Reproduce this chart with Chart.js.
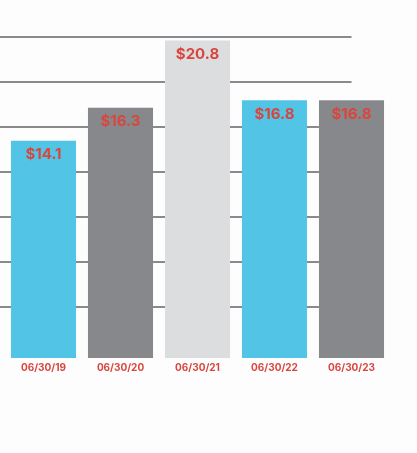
<!DOCTYPE html>
<html lang="en">
<head>
    <meta charset="UTF-8">
    <title>Bar chart</title>
    <script src="https://cdn.jsdelivr.net/npm/chart.js"></script>
    <style>
        html, body { margin: 0; padding: 0; background: #fdfdfd; }
        #wrap { width: 417px; height: 453px; }
    </style>
</head>
<body>
    <div id="wrap"><canvas id="barChart"></canvas></div>

    <script>
        // data
        const dates = ["06/30/19", "06/30/20", "06/30/21", "06/30/22", "06/30/23"];
        const amounts = [14.1, 16.3, 20.8, 16.8, 16.8];
        const barColors = ["#52c4e5", "#87888c", "#dcdddf", "#52c4e5", "#87888c"];
        const gridValues = [3, 6, 9, 12, 15, 18, 21];

        const red = "#d9463e";

        // horizontal rules behind the bars, from the page edge to the middle of the last bar
        const gridLines = {
            id: 'gridLines',
            beforeDatasetsDraw(chart) {
                const { ctx, scales: { x, y } } = chart;
                const right = x.getPixelForValue(dates.length - 1);
                ctx.save();
                ctx.strokeStyle = "#8a8a8c";
                ctx.lineWidth = 2;
                gridValues.forEach(v => {
                    const py = Math.round(y.getPixelForValue(v));
                    ctx.beginPath();
                    ctx.moveTo(0, py);
                    ctx.lineTo(right, py);
                    ctx.stroke();
                });
                ctx.restore();
            }
        };

        // dollar labels inside the top of each bar
        const valueLabels = {
            id: 'valueLabels',
            afterDatasetsDraw(chart) {
                const { ctx } = chart;
                const meta = chart.getDatasetMeta(0);
                ctx.save();
                ctx.fillStyle = red;
                ctx.font = "bold 15px Inter, sans-serif";
                ctx.textAlign = "center";
                ctx.textBaseline = "middle";
                meta.data.forEach((bar, i) => {
                    ctx.fillText("$" + amounts[i].toFixed(1), bar.x, bar.y + 14);
                });
                ctx.restore();
            }
        };

        new Chart(document.getElementById('barChart'), {
            type: 'bar',
            data: {
                labels: dates,
                datasets: [{
                    data: amounts,
                    base: -0.4,   // bars run a little below the zero rule
                    backgroundColor: barColors,
                    borderWidth: 0,
                    categoryPercentage: 1.0,
                    barPercentage: 0.845
                }]
            },
            options: {
                responsive: true,
                maintainAspectRatio: false,
                animation: false,
                layout: { padding: { left: 5, right: 27, top: 12, bottom: 75 } },
                plugins: {
                    legend: { display: false },
                    tooltip: { enabled: false }
                },
                scales: {
                    x: {
                        grid: { display: false, drawTicks: false },
                        border: { display: false },
                        ticks: {
                            color: red,
                            padding: 4,
                            font: { family: "Inter", size: 10, weight: "bold" }
                        }
                    },
                    y: {
                        display: false,
                        min: -0.4,
                        max: 22.7
                    }
                }
            },
            plugins: [gridLines, valueLabels]
        });
    </script>
</body>
</html>
